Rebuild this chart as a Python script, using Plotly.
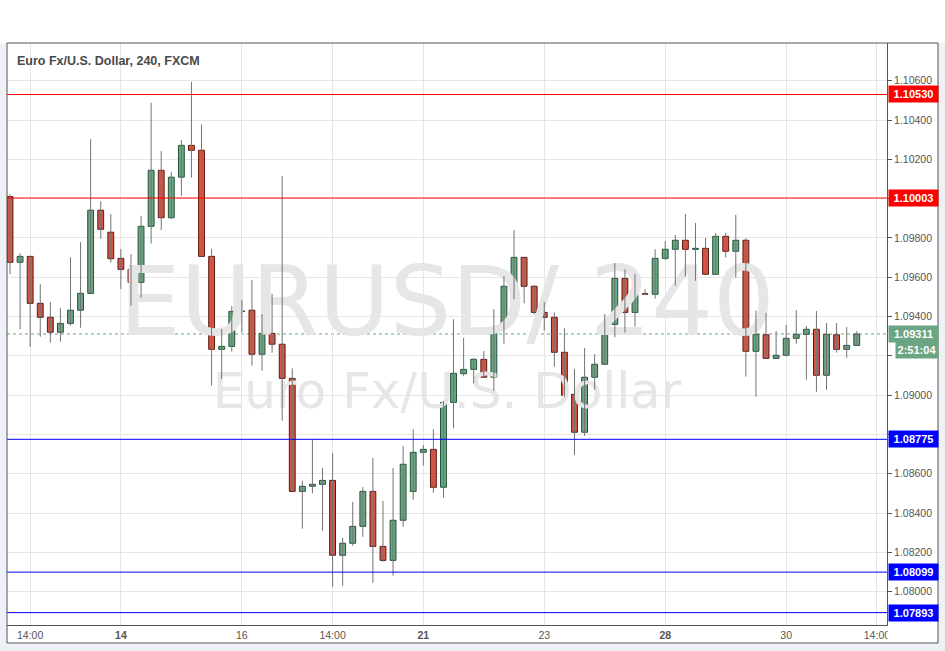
import numpy as np
import plotly.graph_objects as go

# ---------------- data (EURUSD, 4h candles) ----------------
opens = [1.10010, 1.09676, 1.09706, 1.09467, 1.09396, 1.09320, 1.09365, 1.09432, 1.09518, 1.09941,
         1.09829, 1.09696, 1.09640, 1.09574, 1.09859, 1.10144, 1.09903, 1.10109, 1.10271, 1.10246,
         1.09706, 1.09233, 1.09248, 1.09426, 1.09432, 1.09208, 1.09314, 1.09259, 1.09085, 1.08510,
         1.08536, 1.08546, 1.08566, 1.08185, 1.08246, 1.08332, 1.08510, 1.08230, 1.08159, 1.08363,
         1.08510, 1.08709, 1.08724, 1.08531, 1.08963, 1.09109, 1.09131, 1.09182, 1.09091, 1.09345,
         1.09554, 1.09701, 1.09554, 1.09421, 1.09396, 1.09218, 1.09004, 1.08811, 1.09091, 1.09157,
         1.09360, 1.09594, 1.09421, 1.09516, 1.09513, 1.09696, 1.09742, 1.09788, 1.09742, 1.09747,
         1.09615, 1.09808, 1.09732, 1.09788, 1.09223, 1.09307, 1.09187, 1.09203, 1.09289, 1.09309,
         1.09335, 1.09101, 1.09307, 1.09233, 1.09253]
highs = [1.10022, 1.09722, 1.09708, 1.09565, 1.09474, 1.09443, 1.09701, 1.09778, 1.10303, 1.09986,
         1.09922, 1.09744, 1.09718, 1.09912, 1.10488, 1.10242, 1.10136, 1.10298, 1.10594, 1.10378,
         1.09744, 1.09336, 1.09453, 1.09484, 1.09586, 1.09413, 1.09515, 1.10115, 1.09136, 1.08563,
         1.08776, 1.08629, 1.08705, 1.08273, 1.08457, 1.08532, 1.08680, 1.08461, 1.08629, 1.08741,
         1.08827, 1.08746, 1.08827, 1.08970, 1.09386, 1.09291, 1.09189, 1.09224, 1.09438, 1.09606,
         1.09840, 1.09701, 1.09560, 1.09474, 1.09421, 1.09341, 1.09133, 1.09240, 1.09209, 1.09413,
         1.09672, 1.09640, 1.09616, 1.09540, 1.09742, 1.09783, 1.09815, 1.09922, 1.09876, 1.09800,
         1.09825, 1.09825, 1.09917, 1.09798, 1.09430, 1.09418, 1.09326, 1.09357, 1.09433, 1.09352,
         1.09428, 1.09367, 1.09367, 1.09347, 1.09326]
lows = [1.09615, 1.09335, 1.09246, 1.09297, 1.09267, 1.09272, 1.09353, 1.09343, 1.09518, 1.09796,
        1.09674, 1.09540, 1.09455, 1.09496, 1.09771, 1.09840, 1.09895, 1.10015, 1.10107, 1.09706,
        1.09048, 1.09083, 1.09221, 1.09318, 1.09150, 1.09124, 1.09216, 1.08870, 1.08510, 1.08320,
        1.08500, 1.08310, 1.08025, 1.08030, 1.08233, 1.08279, 1.08045, 1.08152, 1.08081, 1.08330,
        1.08468, 1.08641, 1.08503, 1.08478, 1.08831, 1.09096, 1.09060, 1.09091, 1.09022, 1.09262,
        1.09488, 1.09467, 1.09411, 1.09328, 1.09144, 1.08992, 1.08695, 1.08793, 1.09027, 1.09157,
        1.09294, 1.09318, 1.09348, 1.09511, 1.09491, 1.09688, 1.09557, 1.09603, 1.09582, 1.09615,
        1.09615, 1.09701, 1.09597, 1.09094, 1.08992, 1.09187, 1.09187, 1.09197, 1.09262, 1.09078,
        1.09017, 1.09027, 1.09216, 1.09190, 1.09253]
closes = [1.09676, 1.09706, 1.09467, 1.09396, 1.09320, 1.09365, 1.09432, 1.09518, 1.09941, 1.09844,
          1.09694, 1.09640, 1.09574, 1.09859, 1.10144, 1.09903, 1.10109, 1.10271, 1.10246, 1.09706,
          1.09233, 1.09248, 1.09426, 1.09428, 1.09208, 1.09314, 1.09259, 1.09085, 1.08510, 1.08536,
          1.08546, 1.08566, 1.08185, 1.08246, 1.08332, 1.08510, 1.08230, 1.08159, 1.08363, 1.08648,
          1.08709, 1.08724, 1.08531, 1.08963, 1.09111, 1.09131, 1.09182, 1.09091, 1.09345, 1.09554,
          1.09701, 1.09554, 1.09421, 1.09396, 1.09218, 1.08999, 1.08811, 1.09091, 1.09157, 1.09360,
          1.09594, 1.09421, 1.09518, 1.09514, 1.09696, 1.09742, 1.09788, 1.09742, 1.09747, 1.09615,
          1.09808, 1.09732, 1.09788, 1.09223, 1.09309, 1.09187, 1.09203, 1.09289, 1.09309, 1.09335,
          1.09101, 1.09309, 1.09233, 1.09253, 1.09311]

tick_index = [2, 11, 23, 32, 41, 53, 65, 77, 86]
tick_labels = ["14:00", "<b>14</b>", "16", "14:00", "<b>21</b>", "23", "<b>28</b>", "30", "14:00"]

price_ticks = [1.080, 1.082, 1.084, 1.086, 1.088, 1.090, 1.092, 1.094, 1.096, 1.098,
               1.100, 1.102, 1.104, 1.106]
# labels hidden behind the price badges are left blank
price_tick_labels = ["1.08000", "1.08200", "1.08400", "1.08600", "", "1.09000", "", "1.09400",
                     "1.09600", "1.09800", "", "1.10200", "1.10400", "1.10600"]

levels_red = [1.10530, 1.10003]
levels_blue = [1.08775, 1.08099, 1.07893]
last_price = 1.09311
countdown = "2:51:04"

title_text = "Euro Fx/U.S. Dollar, 240, FXCM"
watermark_main = "EURUSD/ 240"
watermark_sub = "Euro Fx/U.S. Dollar"

# ---------------- styling ----------------
X_RANGE = [-0.298, 87.0]
Y_RANGE = [1.07830, 1.10792]
W, H = 945, 651
ML, MR, MT, MB = 7, 58, 43, 26
PW, PH = W - ML - MR, H - MT - MB


def px_x(px):
    return (px - ML) / PW


def px_y(py):
    return (H - MB - py) / PH


def y_at(py):
    return Y_RANGE[0] + (Y_RANGE[1] - Y_RANGE[0]) * px_y(py)


UP_FILL, UP_LINE = "#6ba583", "#225437"
DN_FILL, DN_LINE = "#d75442", "#5b1a13"
WICK = "#737375"
GRID = "#e6e6e6"
AXC = "#555555"
FONT = "Liberation Sans, Arial, sans-serif"

o = np.array(opens)
h = np.array(highs)
l = np.array(lows)
c = np.array(closes)
n = len(o)
idx = np.arange(n)
inc = c >= o

fig = go.Figure()

# watermark (behind candles)
wm_x = (X_RANGE[0] + X_RANGE[1]) / 2
fig.add_trace(go.Scatter(
    x=[wm_x], y=[y_at(311)],
    mode="text", text=[watermark_main], textposition="middle center",
    textfont=dict(family="DejaVu Sans", size=97, color="#e6e6e6"),
    hoverinfo="skip", showlegend=False, cliponaxis=False))
fig.add_trace(go.Scatter(
    x=[wm_x], y=[y_at(395)],
    mode="text", text=[watermark_sub], textposition="middle center",
    textfont=dict(family="DejaVu Sans", size=50, color="#e6e6e6"),
    hoverinfo="skip", showlegend=False, cliponaxis=False))

# wicks
nan = np.full(n, np.nan)
wx = np.column_stack([idx, idx, nan]).ravel()
wy = np.column_stack([l, h, nan]).ravel()
fig.add_trace(go.Scatter(x=wx, y=wy, mode="lines", line=dict(color=WICK, width=1),
                         connectgaps=False, hoverinfo="skip", showlegend=False))

# bodies
fig.add_trace(go.Bar(
    x=idx, y=np.abs(c - o), base=np.minimum(o, c), width=0.58,
    marker=dict(color=np.where(inc, UP_FILL, DN_FILL).tolist(),
                line=dict(color=np.where(inc, UP_LINE, DN_LINE).tolist(), width=1)),
    hoverinfo="skip", showlegend=False))

shapes = []
# white backgrounds (top strip and chart frame)
shapes.append(dict(type="rect", xref="paper", yref="paper", x0=px_x(0), x1=px_x(W), y0=px_y(MT), y1=px_y(0),
                   fillcolor="white", line=dict(width=0), layer="below"))
shapes.append(dict(type="rect", xref="paper", yref="paper", x0=px_x(7), x1=px_x(938), y0=px_y(643), y1=px_y(MT),
                   fillcolor="white", line=dict(width=0), layer="below"))
# current price dotted line
shapes.append(dict(type="line", xref="paper", yref="y", x0=0, x1=1, y0=last_price, y1=last_price,
                   line=dict(color=UP_FILL, width=1, dash="dot"), layer="between"))
# horizontal levels
for lv in levels_red:
    shapes.append(dict(type="line", xref="paper", yref="y", x0=0, x1=1, y0=lv, y1=lv,
                       line=dict(color="#ff0000", width=1), layer="above"))
for lv in levels_blue:
    shapes.append(dict(type="line", xref="paper", yref="y", x0=0, x1=1, y0=lv, y1=lv,
                       line=dict(color="#0000ff", width=1), layer="above"))
# cover for clipped time label under price scale
shapes.append(dict(type="rect", xref="paper", yref="paper", x0=px_x(887.6), x1=px_x(937.5), y0=px_y(642.5), y1=px_y(625.6),
                   fillcolor="white", line=dict(width=0), layer="above"))
# outer frame
shapes.append(dict(type="rect", xref="paper", yref="paper", x0=px_x(7), x1=px_x(938), y0=px_y(643), y1=px_y(MT),
                   fillcolor="rgba(0,0,0,0)", line=dict(color=AXC, width=1), layer="above"))

annotations = []
annotations.append(dict(xref="paper", yref="paper", x=px_x(15), y=px_y(61), xanchor="left", yanchor="middle",
                        text=f"<b>{title_text}</b>", showarrow=False,
                        font=dict(family=FONT, size=12.5, color="#4a4a4a")))


def badge(y, text, bg, x0=888, w=47, yshift=0):
    annotations.append(dict(xref="paper", yref="y", x=px_x(x0), y=y, xanchor="left", yanchor="middle",
                            text=f"<b>{text}</b>", showarrow=False, bgcolor=bg, borderpad=1,
                            width=w, height=14, yshift=yshift, align="center",
                            font=dict(family=FONT, size=11, color="white")))


for lv in levels_red:
    badge(lv, f"{lv:.5f}", "#ff0000")
for lv in levels_blue:
    badge(lv, f"{lv:.5f}", "#0000ff")
badge(last_price, f"{last_price:.5f}", UP_FILL)
badge(last_price, countdown, UP_FILL, x0=895, w=40, yshift=-16)

fig.update_layout(
    width=W, height=H, template="none",
    margin=dict(l=ML, r=MR, t=MT, b=MB, pad=0, autoexpand=False),
    paper_bgcolor="#eef1f5", plot_bgcolor="white",
    showlegend=False, barmode="overlay", hovermode=False,
    shapes=shapes, annotations=annotations,
    xaxis=dict(range=X_RANGE, tickmode="array", tickvals=tick_index, ticktext=tick_labels,
               showgrid=True, gridcolor=GRID, gridwidth=1, zeroline=False,
               showline=True, linecolor=AXC, linewidth=1, ticks="", automargin=False,
               tickfont=dict(family=FONT, size=10.5, color=AXC), fixedrange=True),
    yaxis=dict(range=Y_RANGE, side="right", tickmode="array", tickvals=price_ticks,
               ticktext=price_tick_labels,
               showgrid=True, gridcolor=GRID, gridwidth=1, zeroline=False,
               showline=True, linecolor=AXC, linewidth=1, ticks="outside", ticklen=4,
               tickcolor=AXC, automargin=False,
               tickfont=dict(family=FONT, size=10.5, color=AXC), fixedrange=True),
)

fig.write_html("out.html", config={"displayModeBar": False},
               post_script="document.body.style.margin='0';document.body.style.overflow='hidden';")
